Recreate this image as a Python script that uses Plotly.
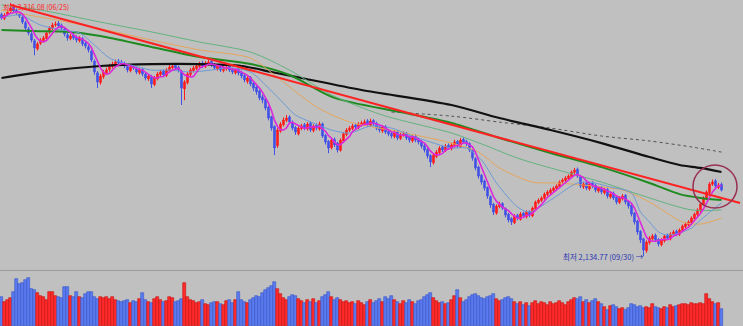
import plotly.graph_objects as go
import pandas as pd

# ---------------- data (KOSPI daily, index points) ----------------
opens = [3262,3244,3262,3276,3298,3282,3266,3250,3224,3195,
3172,3140,3102,3128,3140,3150,3180,3197,3214,3222,
3212,3195,3168,3150,3166,3156,3140,3150,3128,3112,
3092,3045,2990,2945,2972,2990,3005,3020,3028,3045,
3040,3034,3020,3000,3020,3010,2990,3006,2984,2962,
2972,2935,2962,2982,2998,2978,3000,3014,3026,3016,
2998,2915,2944,2982,3000,3010,3020,3036,3020,3032,
3044,3030,3008,3025,3000,3010,3020,3006,2990,3006,
2992,2978,2950,2968,2942,2924,2905,2878,2868,2830,
2785,2740,2650,2718,2748,2768,2784,2760,2735,2705,
2730,2748,2728,2755,2720,2746,2728,2752,2698,2670,
2640,2680,2662,2628,2672,2702,2722,2730,2746,2734,
2748,2752,2766,2745,2768,2755,2735,2718,2740,2716,
2708,2692,2716,2684,2702,2708,2690,2672,2694,2680,
2670,2650,2632,2604,2570,2600,2618,2645,2628,2652,
2636,2650,2670,2645,2680,2670,2660,2628,2590,2550,
2512,2485,2455,2412,2376,2335,2366,2380,2356,2330,
2310,2290,2325,2306,2335,2318,2342,2322,2355,2384,
2394,2404,2422,2430,2440,2450,2460,2482,2488,2496,
2505,2526,2540,2505,2458,2476,2448,2476,2465,2438,
2455,2430,2446,2410,2428,2410,2385,2402,2418,2390,
2372,2335,2298,2250,2215,2160,2198,2215,2232,2212,
2188,2205,2232,2215,2234,2250,2236,2254,2272,2282,
2290,2310,2328,2345,2376,2402,2430,2470,2486,2455,
2470]

highs = [3270,3268,3284,3316.08,3305,3290,3275,3258,3232,3204,
3180,3148,3134,3152,3162,3185,3208,3224,3230,3232,
3220,3202,3178,3172,3175,3165,3162,3158,3136,3120,
3098,3052,2998,2985,3004,3014,3032,3042,3052,3055,
3050,3042,3028,3026,3030,3018,3012,3014,2992,2984,
2980,2975,2994,3004,3006,3012,3026,3034,3036,3024,
3004,2956,2994,3012,3022,3032,3042,3046,3045,3052,
3052,3036,3030,3032,3022,3026,3028,3014,3012,3014,
3000,2986,2975,2975,2950,2930,2912,2888,2874,2836,
2790,2745,2732,2760,2782,2793,2792,2768,2742,2740,
2752,2756,2760,2762,2750,2754,2762,2758,2704,2676,
2684,2688,2668,2684,2714,2732,2742,2752,2756,2760,
2766,2772,2774,2776,2774,2762,2744,2746,2746,2724,
2716,2722,2722,2710,2716,2714,2698,2700,2702,2688,
2676,2658,2640,2610,2614,2630,2648,2652,2658,2660,
2662,2678,2676,2686,2688,2678,2666,2634,2596,2556,
2518,2492,2460,2418,2382,2376,2388,2386,2362,2336,
2316,2330,2332,2340,2342,2348,2348,2366,2394,2404,
2414,2432,2442,2452,2460,2470,2488,2498,2508,2516,
2534,2546,2548,2512,2480,2484,2480,2484,2472,2462,
2462,2452,2452,2434,2436,2416,2414,2424,2424,2396,
2378,2340,2304,2256,2220,2208,2228,2238,2240,2218,
2218,2236,2240,2246,2256,2258,2264,2282,2292,2302,
2320,2338,2358,2386,2414,2442,2480,2492,2494,2476,
2478]

lows = [3238,3236,3255,3270,3272,3260,3246,3218,3190,3165,
3132,3072,3094,3120,3132,3144,3172,3190,3205,3200,
3188,3160,3140,3142,3144,3132,3132,3115,3104,3085,
3040,2980,2919,2935,2962,2980,2996,3010,3020,3026,
3022,3012,2992,2992,3004,2984,2982,2975,2955,2952,
2919,2928,2955,2975,2970,2970,2992,3006,3004,2992,
2840,2862,2936,2974,2992,3002,3012,3012,3012,3024,
3018,3004,3000,2994,2992,3000,2994,2984,2982,2978,
2964,2946,2940,2928,2905,2888,2862,2848,2815,2768,
2720,2606,2640,2710,2740,2760,2752,2722,2700,2698,
2722,2722,2720,2714,2712,2722,2720,2686,2655,2615,
2632,2644,2618,2622,2664,2694,2714,2722,2728,2726,
2740,2744,2738,2738,2742,2722,2712,2710,2704,2694,
2684,2684,2676,2676,2692,2676,2664,2664,2666,2656,
2638,2618,2590,2550,2562,2592,2610,2620,2620,2630,
2628,2642,2640,2640,2658,2648,2620,2580,2535,2496,
2468,2440,2402,2360,2326,2328,2358,2350,2315,2292,
2280,2284,2302,2300,2312,2310,2316,2316,2350,2376,
2386,2398,2414,2422,2432,2442,2452,2472,2480,2488,
2498,2518,2500,2452,2448,2442,2440,2452,2432,2430,
2424,2422,2404,2402,2396,2376,2378,2394,2376,2356,
2320,2282,2234,2196,2134.77,2150,2188,2206,2200,2180,
2180,2198,2210,2208,2226,2228,2228,2246,2264,2274,
2282,2302,2320,2338,2368,2396,2424,2462,2452,2448,
2436]

closes = [3246,3260,3274,3293,3279,3269,3255,3227,3199,3176,
3143,3106,3125,3143,3153,3176,3199,3213,3218,3209,
3199,3171,3153,3162,3153,3143,3153,3125,3115,3097,
3050,2994,2947,2975,2994,3003,3022,3031,3041,3036,
3031,3022,3003,3017,3013,2994,3003,2985,2966,2975,
2938,2966,2985,2994,2980,3003,3017,3022,3013,3003,
2919,2947,2985,3003,3013,3022,3031,3022,3036,3041,
3027,3013,3022,3003,3013,3017,3003,2994,3003,2989,
2975,2957,2966,2938,2919,2901,2873,2863,2826,2779,
2732,2639,2723,2751,2770,2779,2761,2732,2714,2732,
2742,2732,2751,2723,2742,2732,2751,2695,2667,2639,
2676,2653,2630,2676,2705,2723,2732,2742,2737,2751,
2756,2761,2747,2765,2751,2732,2723,2737,2714,2705,
2695,2714,2686,2700,2705,2686,2676,2690,2676,2667,
2648,2630,2602,2574,2606,2620,2639,2630,2648,2639,
2653,2667,2648,2676,2667,2658,2630,2592,2546,2508,
2480,2452,2415,2373,2340,2368,2378,2359,2326,2303,
2294,2322,2312,2331,2322,2340,2326,2359,2387,2396,
2406,2424,2434,2443,2452,2462,2480,2490,2499,2508,
2527,2536,2508,2462,2471,2452,2471,2462,2443,2452,
2434,2443,2415,2424,2406,2387,2406,2415,2387,2368,
2331,2294,2247,2210,2163,2200,2219,2228,2210,2191,
2210,2228,2219,2238,2247,2238,2256,2275,2284,2294,
2312,2331,2350,2378,2406,2434,2471,2480,2462,2466,
2443]

volumes = [580,480,520,560,680,940,840,860,920,960,
740,720,660,600,580,520,680,680,600,580,
560,780,780,600,580,680,580,560,640,680,
680,580,540,580,560,580,540,580,520,500,
480,500,520,460,500,480,540,660,520,480,
460,540,580,520,480,500,580,560,480,500,
540,860,580,520,500,460,480,520,440,420,
460,480,480,440,420,500,520,460,520,680,
520,480,460,520,560,600,580,660,720,760,
800,880,740,640,560,520,580,620,600,540,
500,460,520,480,540,460,500,580,620,680,
580,520,560,520,480,500,460,480,440,500,
460,420,480,520,460,500,540,480,580,540,
600,520,480,440,500,460,520,480,440,500,
520,580,620,660,560,500,460,480,440,460,
520,600,720,560,480,520,580,620,640,600,
560,540,580,600,640,540,500,520,560,580,
540,480,440,480,420,460,400,460,500,440,
480,460,420,480,440,460,500,460,420,480,
520,560,540,580,480,520,460,500,540,480,
440,380,320,400,420,380,340,360,320,360,
440,420,380,400,360,380,360,440,380,360,
340,380,360,420,380,400,420,440,440,420,
460,440,440,460,440,640,540,480,440,460,
340]

# moving-average lines (candle index, index value)
ma20_i = [0,6,13,20,26,31,36,43,50,56,63,70,76,83,88,93,98,103,110,116,123,130,136,143,150,155,160,165,172,176,183,192,196,203,210,213,216,219,222,226,230,233,237,240]
ma20_v = [3246,3260,3213,3190,3176,3120,3059,3027,3003,3003,2994,3003,3013,2994,2933,2863,2793,2761,2723,2709,2742,2732,2700,2667,2639,2639,2583,2476,2364,2340,2396,2476,2480,2457,2429,2340,2294,2247,2233,2242,2266,2303,2350,2382]

ma60_i = [0,9,22,35,50,66,83,91,105,116,133,150,159,166,177,185,194,200,207,216,227,233,240]
ma60_v = [3283,3260,3227,3190,3143,3097,3059,2980,2831,2761,2714,2662,2620,2546,2480,2476,2466,2457,2443,2387,2294,2284,2312]

ma120_i = [0,13,33,50,66,83,96,110,127,150,161,172,183,200,216,230,240]
ma120_v = [3307,3283,3227,3181,3134,3087,3003,2887,2793,2709,2653,2592,2546,2480,2406,2350,2350]

ma240_i = [0,10,23,33,50,66,83,96,111,133,150,166,183,200,216,226,233,240]
ma240_v = [3190,3185,3181,3162,3111,3064,3031,2980,2873,2807,2756,2686,2616,2550,2476,2424,2406,2396]

ma480_i = [0,16,33,50,66,80,90,100,120,150,166,183,200,216,226,233,240]
ma480_v = [2966,2999,3022,3031,3031,3022,2994,2966,2910,2840,2779,2723,2662,2597,2560,2546,2527]

ma960_i = [130,150,166,183,200,216,230,240]
ma960_v = [2807,2788,2760,2732,2695,2672,2644,2620]

trend_i = [3, 246.2]
trend_v = [3307, 2382]

label_high = "최고 3,316.08 (06/25)"
label_low = "최저 2,134.77 (09/30) →"

# ---------------- figure ----------------
n = len(closes)
idx = list(range(n))
ma5 = pd.Series(closes).rolling(5, min_periods=1).mean()

RED = "#ff1c1c"
BLUE = "#4252e6"
up = [c >= o for o, c in zip(opens, closes)]
vol_colors = ["#ff2a2a" if u else "#5a7bf0" for u in up]
vol_edges = ["#c81010" if u else "#3a55c8" for u in up]

fig = go.Figure()

def ma_line(xs, ys, color, width, dash="solid"):
    fig.add_trace(go.Scatter(x=xs, y=ys, mode="lines",
                             line=dict(color=color, width=width, dash=dash, shape="spline", smoothing=0.8),
                             hoverinfo="skip", showlegend=False, xaxis="x", yaxis="y"))

ma_line(ma960_i, ma960_v, "#505050", 1, "dot")
ma_line(ma480_i, ma480_v, "#111111", 2.2)
ma_line(ma240_i, ma240_v, "#1f8a1f", 2)
ma_line(ma120_i, ma120_v, "#63b27f", 1)
ma_line(ma60_i, ma60_v, "#e6a55c", 1)
ma_line(ma20_i, ma20_v, "#6c9ad6", 1)

fig.add_trace(go.Candlestick(
    x=idx, open=opens, high=highs, low=lows, close=closes,
    increasing=dict(line=dict(color=RED, width=1), fillcolor=RED),
    decreasing=dict(line=dict(color=BLUE, width=1), fillcolor=BLUE),
    whiskerwidth=0, showlegend=False, hoverinfo="skip", xaxis="x", yaxis="y"))

fig.add_trace(go.Scatter(x=idx, y=ma5, mode="lines",
                         line=dict(color="#dc28dc", width=1.6),
                         hoverinfo="skip", showlegend=False, xaxis="x", yaxis="y"))

fig.add_trace(go.Scatter(x=trend_i, y=trend_v, mode="lines",
                         line=dict(color="#ff2222", width=2),
                         hoverinfo="skip", showlegend=False, xaxis="x", yaxis="y"))

fig.add_trace(go.Bar(x=idx, y=volumes, marker=dict(color=vol_colors, line=dict(width=0.6, color=vol_edges)),
                     width=0.9, showlegend=False, hoverinfo="skip", xaxis="x", yaxis="y2"))

W, H = 743, 326
fig.update_layout(
    width=W, height=H,
    margin=dict(l=0, r=0, t=0, b=0),
    paper_bgcolor="#c0c0c0", plot_bgcolor="#c0c0c0",
    showlegend=False, bargap=0,
    xaxis=dict(range=[-0.5, 247.17], visible=False, rangeslider=dict(visible=False)),
    yaxis=dict(domain=[1 - 265 / H, 1], range=[2093, 3330], visible=False),
    yaxis2=dict(domain=[0, 54 / H], range=[0, 1080], visible=False),
)

# panel separator
fig.add_shape(type="line", xref="paper", yref="paper", x0=0, x1=1,
              y0=1 - 270.5 / H, y1=1 - 270.5 / H, line=dict(color="#9a9a9a", width=1))

# highlight circle
fig.add_shape(type="circle", xref="paper", yref="paper",
              x0=693 / W, x1=737 / W, y0=1 - 208 / H, y1=1 - 165 / H,
              line=dict(color="#983052", width=1.5))

fig.add_annotation(text=label_low, xref="paper", yref="paper",
                   x=646 / W, y=1 - 256 / H, xanchor="right", yanchor="middle",
                   showarrow=False, font=dict(family="Noto Sans CJK KR", size=7.5, color="#2a36b0"))
fig.add_annotation(text=label_high, xref="paper", yref="paper",
                   x=1 / W, y=1, xanchor="left", yanchor="top",
                   showarrow=False, font=dict(family="Noto Sans CJK KR", size=7, color="#ff2020"))

fig.write_html("out.html")
